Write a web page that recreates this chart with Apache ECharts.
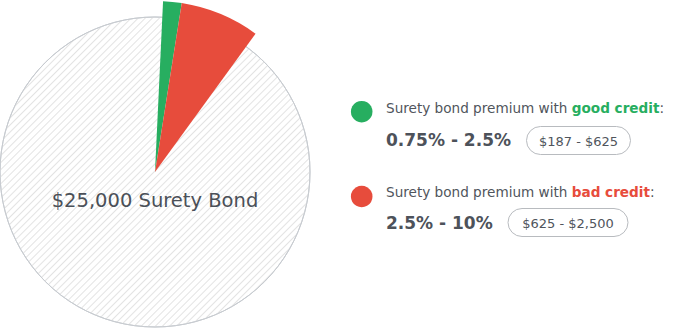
<!DOCTYPE html>
<html>
<head>
<meta charset="utf-8">
<script src="https://cdn.jsdelivr.net/npm/echarts@6/dist/echarts.min.js"></script>
<style>
html,body{margin:0;padding:0;background:#fff;}
#chart{width:675px;height:328px;}
</style>
</head>
<body>
<div id="chart"></div>
<script>
// ---- data ----
var bondAmount = 25000;
var bondLabel = '$25,000 Surety Bond';
var tierNames = ['good credit', 'bad credit'];
var tierRateLow = [0.75, 2.5];     // percent
var tierRateHigh = [2.5, 10];      // percent
var tierRateText = ['0.75% - 2.5%', '2.5% - 10%'];
var tierCostText = ['$187 - $625', '$625 - $2,500'];
var tierColors = ['#27ae60', '#e74c3c'];
var prefixText = 'Surety bond premium with ';

var FONT = '"DejaVu Sans", sans-serif';
var chart = echarts.init(document.getElementById('chart'), null, {renderer: 'svg'});

var premiumSlices = [
  {name: 'offset', value: bondAmount * tierRateLow[0] / 100, itemStyle: {color: 'rgba(0,0,0,0)'}},
  {name: tierNames[0], value: bondAmount * (tierRateHigh[0] - tierRateLow[0]) / 100, itemStyle: {color: tierColors[0]}},
  {name: tierNames[1], value: bondAmount * (tierRateHigh[1] - tierRateLow[1]) / 100, itemStyle: {color: tierColors[1]}},
  {name: 'rest', value: bondAmount * (100 - tierRateHigh[1]) / 100, itemStyle: {color: 'rgba(0,0,0,0)'}}
];

var rows = [
  {circleY: 111.7, line1Y: 108, line2Y: 140, pillX: 526.5, pillW: 104, pillY: 126.5},
  {circleY: 196.5, line1Y: 192, line2Y: 222.5, pillX: 508, pillW: 120, pillY: 208.5}
];
var graphics = [{type: 'text', x: 155, y: 200, z: 100, silent: true, style: {
  text: bondLabel, fontFamily: FONT, fontSize: 19.5, fill: '#4b5058', align: 'center', verticalAlign: 'middle'
}}];
tierNames.forEach(function (name, i) {
  var r = rows[i];
  graphics.push({type: 'circle', z: 100, shape: {cx: 361.7, cy: r.circleY, r: 10.8}, style: {fill: tierColors[i]}, silent: true});
  graphics.push({type: 'text', z: 100, x: 386, y: r.line1Y, silent: true, style: {
    text: '{a|' + prefixText + '}{b|' + name + '}{a|:}',
    verticalAlign: 'middle',
    rich: {
      a: {fontFamily: FONT, fontSize: 13.6, fill: '#50555c'},
      b: {fontFamily: FONT, fontSize: 13.6, fontWeight: 'bold', fill: tierColors[i]}
    }
  }});
  graphics.push({type: 'text', z: 100, x: 386, y: r.line2Y, silent: true, style: {
    text: tierRateText[i], fontFamily: FONT, fontSize: 17, fontWeight: 'bold', fill: '#4d525a', verticalAlign: 'middle'
  }});
  graphics.push({type: 'rect', z: 100, shape: {x: r.pillX, y: r.pillY, width: r.pillW, height: 28, r: 14}, silent: true,
    style: {fill: 'none', stroke: '#b8bbbf', lineWidth: 1}});
  graphics.push({type: 'text', z: 100, x: r.pillX + r.pillW / 2, y: r.pillY + 14.5, silent: true, style: {
    text: tierCostText[i], fontFamily: FONT, fontSize: 13, fill: '#50555c', align: 'center', verticalAlign: 'middle'
  }});
});

chart.setOption({
  animation: false,
  backgroundColor: '#fff',
  series: [
    {
      type: 'pie',
      center: [155, 172],
      radius: [0, 155],
      silent: true,
      data: [{name: bondLabel, value: bondAmount}],
      itemStyle: {
        color: '#ffffff',
        borderColor: '#c7cbd0',
        borderWidth: 1,
        decal: {symbol: 'rect', symbolSize: 1, dashArrayX: [1, 0], dashArrayY: [1, 4], rotation: -Math.PI / 4, color: '#e3e3e3'}
      },
      label: {show: false},
      labelLine: {show: false},
      emphasis: {disabled: true}
    },
    {
      type: 'pie',
      center: [155, 172],
      radius: [0, 171],
      startAngle: 90,
      clockwise: true,
      silent: true,
      label: {show: false},
      labelLine: {show: false},
      emphasis: {disabled: true},
      data: premiumSlices
    }
  ],
  graphic: graphics
});
</script>
</body>
</html>
